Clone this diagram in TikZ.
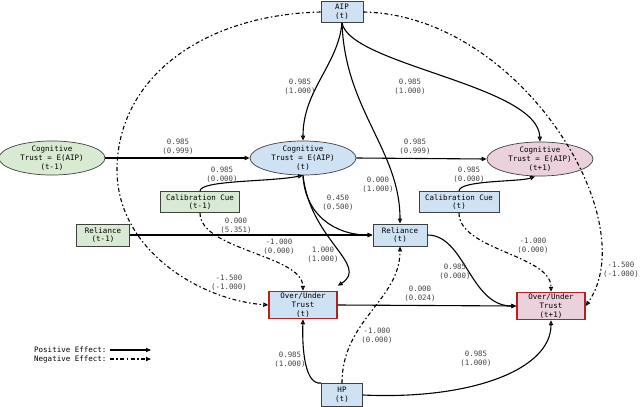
\documentclass[tikz,border=0pt]{standalone}
\usepackage{fontspec}
\newfontfamily\monof{DejaVu Sans Mono}
\usetikzlibrary{shapes.geometric,arrows.meta}
\definecolor{gfill}{HTML}{D9EAD3}
\definecolor{bfill}{HTML}{CFE2F3}
\definecolor{pfill}{HTML}{EAD1DC}
\definecolor{ouborder}{HTML}{B22222}
\definecolor{lblcol}{HTML}{444444}
\begin{document}
\begin{tikzpicture}[x=1pt,y=-1pt,
  every node/.style={font=\monof\fontsize{7.5}{8.7}\selectfont, align=center, inner sep=0pt},
  boxn/.style={draw=black!75, line width=0.9pt, rectangle},
  ell/.style={draw=black!75, line width=0.7pt, ellipse, minimum width=106pt, minimum height=29pt},
  ou/.style={draw=ouborder, line width=1.4pt, rectangle, minimum width=68pt, minimum height=27pt},
  lbl/.style={text=lblcol, font=\monof\fontsize{7.4}{9.3}\selectfont},
  posedge/.style={draw, line width=1.1pt, -{Triangle[open,length=5pt,width=4.2pt]}},
  negedge/.style={draw, line width=1.1pt, dash pattern=on 4pt off 2.5pt on 1.5pt off 2.5pt, -{Triangle[open,length=5pt,width=4.2pt]}}]
\useasboundingbox (0,0) rectangle (640,407);
% nodes
\node[boxn, fill=bfill, minimum width=42pt, minimum height=21pt] (aip) at (342,12) {AIP\\(t)};
\node[ell, fill=gfill] (ctm) at (52,158) {Cognitive\\Trust = E(AIP)\\(t-1)};
\node[ell, fill=bfill] (ctt) at (303,158) {Cognitive\\Trust = E(AIP)\\(t)};
\node[ell, fill=pfill] (ctp) at (540,159) {Cognitive\\Trust = E(AIP)\\(t+1)};
\node[boxn, fill=gfill, minimum width=79pt, minimum height=21pt] (ccm) at (200,202) {Calibration Cue\\(t-1)};
\node[boxn, fill=bfill, minimum width=80pt, minimum height=21pt] (cct) at (459,202) {Calibration Cue\\(t)};
\node[boxn, fill=gfill, minimum width=53pt, minimum height=22pt] (rlm) at (103,235) {Reliance\\(t-1)};
\node[boxn, fill=bfill, minimum width=54pt, minimum height=22pt] (rlt) at (400,235) {Reliance\\(t)};
\node[ou, fill=bfill] (out) at (303,305) {Over/Under\\Trust\\(t)};
\node[ou, fill=pfill] (oup) at (551,306) {Over/Under\\Trust\\(t+1)};
\node[boxn, fill=bfill, minimum width=41pt, minimum height=23pt] (hp) at (342,395) {HP\\(t)};
% edges
\draw[posedge] (aip.south) .. controls (338,65) and (303,90) .. (ctt.north);
\draw[posedge] (aip.south) .. controls (350,65) and (538,85) .. (ctp.north);
\draw[posedge] (aip.south) .. controls (345,110) and (400,150) .. (rlt.north);
\draw[negedge] (aip.east) .. controls (520,15) and (645,220) .. (oup.east);
\draw[negedge] (aip.west) .. controls (200,15) and (117,80) .. (117,170) .. controls (117,250) and (200,300) .. (out.west);
\draw[posedge] (ctm.east) -- (ctt.west);
\draw[posedge] (ctt.east) -- (ctp.west);
\draw[posedge] (ccm.north) .. controls (200,180) and (270,182) .. (ctt.south);
\draw[posedge] (cct.north) .. controls (459,180) and (520,182) .. ([xshift=-5pt]ctp.south);
\draw[negedge] (ccm.south) .. controls (200,250) and (302,255) .. (out.north);
\draw[negedge] (cct.south) .. controls (459,250) and (551,255) .. (oup.north);
\draw[posedge] (rlm.east) -- (rlt.west);
\draw[posedge] (ctt.south) .. controls (305,215) and (335,235) .. (rlt.west);
\draw[posedge] (ctt.south) .. controls (310,240) and (370,265) .. ([yshift=5pt]out.north east);
\draw[posedge] (rlt.east) .. controls (465,235) and (470,306) .. (oup.west);
\draw[posedge] (out.east) -- (oup.west);
\draw[posedge] (hp.north west) .. controls (305,385) and (302,350) .. (out.south);
\draw[posedge] (hp.east) .. controls (470,400) and (551,370) .. (oup.south);
\draw[negedge] (hp.north) .. controls (342,320) and (400,300) .. (rlt.south);
% labels
\node[lbl] (l1) at (300,87) {0.985\\(1.000)};
\node[lbl] (l2) at (410,87) {0.985\\(1.000)};
\node[lbl] (l3) at (378,185) {0.000\\(1.000)};
\node[lbl] (l4) at (621,270) {-1.500\\(-1.000)};
\node[lbl] (l5) at (229,283) {-1.500\\(-1.000)};
\node[lbl] (l6) at (178,147) {0.985\\(0.999)};
\node[lbl] (l7) at (415,147) {0.985\\(0.999)};
\node[lbl] (l8) at (222,175) {0.985\\(0.000)};
\node[lbl] (l9) at (469,175) {0.985\\(0.000)};
\node[lbl] (l10) at (279,247) {-1.000\\(0.000)};
\node[lbl] (l11) at (533,246) {-1.000\\(0.000)};
\node[lbl] (l12) at (236,226) {0.000\\(5.351)};
\node[lbl] (l13) at (338,203) {0.450\\(0.500)};
\node[lbl] (l14) at (323,255) {1.000\\(1.000)};
\node[lbl] (l15) at (455,272) {0.985\\(0.000)};
\node[lbl] (l16) at (420,294) {0.000\\(0.024)};
\node[lbl] (l17) at (290,360) {0.985\\(1.000)};
\node[lbl] (l18) at (476,359) {0.985\\(1.000)};
\node[lbl] (l19) at (377,336) {-1.000\\(0.000)};
% legend
\node[anchor=west] (lgp) at (34,350) {Positive Effect:};
\node[anchor=west] (lgn) at (34,359) {Negative Effect:};
\coordinate (lgpe) at (151,350);
\coordinate (lgne) at (151,359);
\draw[line width=1.1pt, -{Triangle[length=5pt,width=4.2pt]}] ([xshift=3pt]lgp.east) -- (lgpe);
\draw[line width=1.1pt, dash pattern=on 4pt off 2.5pt on 1.5pt off 2.5pt, -{Triangle[length=5pt,width=4.2pt]}] ([xshift=3pt]lgn.east) -- (lgne);
\end{tikzpicture}
\end{document}
